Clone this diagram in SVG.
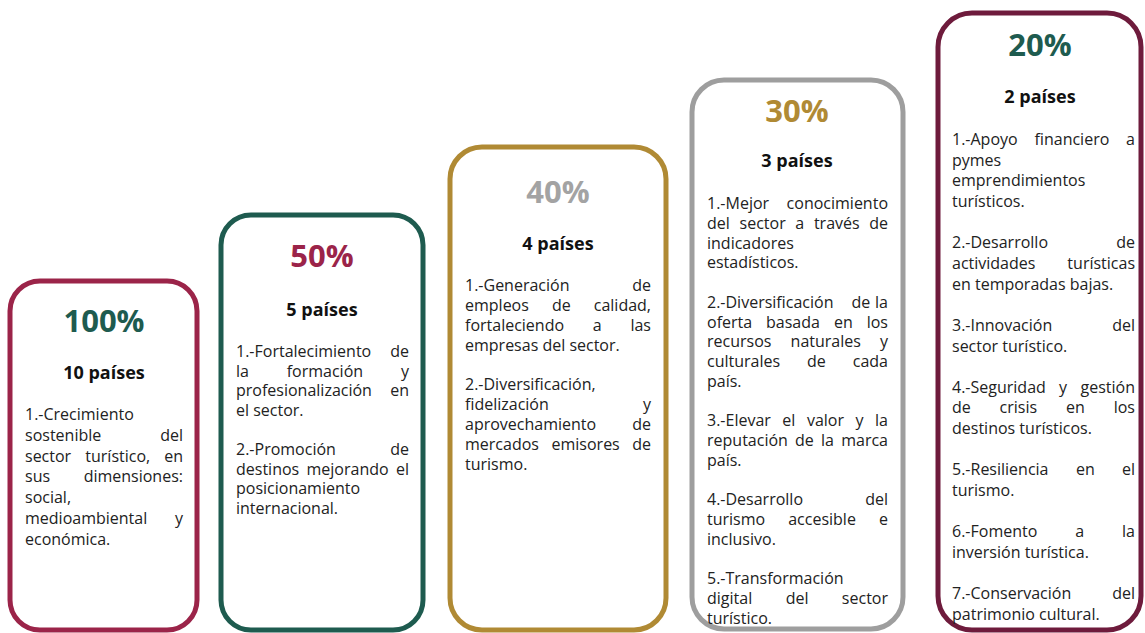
<svg xmlns="http://www.w3.org/2000/svg" width="1145" height="633" viewBox="0 0 1145 633">
<style>
.box{fill:#fff;stroke-width:5}
.pct{font-family:"Open Sans","Noto Sans",sans-serif;font-weight:700;font-size:31px;text-anchor:middle}
.cnt{font-family:"Open Sans","Noto Sans",sans-serif;font-weight:700;font-size:18px;text-anchor:middle;fill:#111}
.t{font-family:"Open Sans","Noto Sans",sans-serif;font-size:16px;fill:#222}
.r{text-anchor:end}
</style>
<rect width="1145" height="633" fill="#fff"/>
<g id="connectors"/>
<g id="node-100">
<rect class="box" x="10" y="281" width="187" height="349" rx="30" stroke="#9B2449"/>
<text class="pct" x="104" y="332" fill="#1E5B4F">100%</text>
<text class="cnt" x="104" y="379">10 países</text>
<text class="t" x="25" y="420">1.-Crecimiento</text>
<text class="t" x="25" y="440.8">sostenible</text><text class="t r" x="183" y="440.8">del</text>
<text class="t" x="25" y="461.6">sector</text><text class="t" x="85.3" y="461.6">turístico,</text><text class="t r" x="183" y="461.6">en</text>
<text class="t" x="25" y="482.4">sus</text><text class="t r" x="183" y="482.4">dimensiones:</text>
<text class="t" x="25" y="503.2">social,</text>
<text class="t" x="25" y="524">medioambiental</text><text class="t r" x="183" y="524">y</text>
<text class="t" x="25" y="544.8">económica.</text>
</g>
<g id="node-50">
<rect class="box" x="221" y="215" width="202" height="415" rx="30" stroke="#1E5B4F"/>
<text class="pct" x="322" y="267" fill="#9B2449">50%</text>
<text class="cnt" x="322" y="316">5 países</text>
<text class="t" x="236" y="357">1.-Fortalecimiento</text><text class="t r" x="409" y="357">de</text>
<text class="t" x="236" y="376.6">la</text><text class="t" x="286.7" y="376.6">formación</text><text class="t r" x="409" y="376.6">y</text>
<text class="t" x="236" y="396.2">profesionalización</text><text class="t r" x="409" y="396.2">en</text>
<text class="t" x="236" y="415.8">el sector.</text>
<text class="t" x="236" y="455">2.-Promoción</text><text class="t r" x="409" y="455">de</text>
<text class="t" x="236" y="474.6">destinos</text><text class="t" x="306.5" y="474.6">mejorando</text><text class="t r" x="409" y="474.6">el</text>
<text class="t" x="236" y="494.2">posicionamiento</text>
<text class="t" x="236" y="513.8">internacional.</text>
</g>
<g id="node-40">
<rect class="box" x="450" y="147" width="216" height="483" rx="32" stroke="#B08A34"/>
<text class="pct" x="558" y="203" fill="#A3A3A3">40%</text>
<text class="cnt" x="558" y="250">4 países</text>
<text class="t" x="465" y="291">1.-Generación</text><text class="t r" x="651" y="291">de</text>
<text class="t" x="465" y="310.85">empleos</text><text class="t" x="552" y="310.85">de</text><text class="t r" x="651" y="310.85">calidad,</text>
<text class="t" x="465" y="330.7">fortaleciendo</text><text class="t" x="592.8" y="330.7">a</text><text class="t r" x="651" y="330.7">las</text>
<text class="t" x="465" y="350.55">empresas del sector.</text>
<text class="t" x="465" y="390.25">2.-Diversificación,</text>
<text class="t" x="465" y="410.1">fidelización</text><text class="t r" x="651" y="410.1">y</text>
<text class="t" x="465" y="429.95">aprovechamiento</text><text class="t r" x="651" y="429.95">de</text>
<text class="t" x="465" y="449.8">mercados</text><text class="t" x="551.5" y="449.8">emisores</text><text class="t r" x="651" y="449.8">de</text>
<text class="t" x="465" y="469.65">turismo.</text>
</g>
<g id="node-30">
<rect class="box" x="692" y="80" width="211" height="549" rx="32" stroke="#9E9E9E"/>
<text class="pct" x="797" y="122" fill="#B08A34">30%</text>
<text class="cnt" x="797" y="167">3 países</text>
<text class="t" x="707" y="209">1.-Mejor</text><text class="t r" x="888" y="209">conocimiento</text>
<text class="t" x="707" y="228.76">del</text><text class="t" x="739.6" y="228.76">sector</text><text class="t" x="795.3" y="228.76">a</text><text class="t" x="813.9" y="228.76">través</text><text class="t r" x="888" y="228.76">de</text>
<text class="t" x="707" y="248.5">indicadores</text>
<text class="t" x="707" y="268.3">estadísticos.</text>
<text class="t" x="707" y="307.8">2.-Diversificación</text><text class="t" x="851.5" y="307.8">de</text><text class="t r" x="888" y="307.8">la</text>
<text class="t" x="707" y="327.6">oferta</text><text class="t" x="766" y="327.6">basada</text><text class="t" x="833.9" y="327.6">en</text><text class="t r" x="888" y="327.6">los</text>
<text class="t" x="707" y="347.3">recursos</text><text class="t" x="790.6" y="347.3">naturales</text><text class="t r" x="888" y="347.3">y</text>
<text class="t" x="707" y="367.1">culturales</text><text class="t" x="807" y="367.1">de</text><text class="t r" x="888" y="367.1">cada</text>
<text class="t" x="707" y="386.8">país.</text>
<text class="t" x="707" y="426.4">3.-Elevar</text><text class="t" x="782.3" y="426.4">el</text><text class="t" x="806.9" y="426.4">valor</text><text class="t" x="855.5" y="426.4">y</text><text class="t r" x="888" y="426.4">la</text>
<text class="t" x="707" y="446.1">reputación</text><text class="t" x="795" y="446.1">de</text><text class="t" x="821" y="446.1">la</text><text class="t r" x="888" y="446.1">marca</text>
<text class="t" x="707" y="465.9">país.</text>
<text class="t" x="707" y="505.4">4.-Desarrollo</text><text class="t r" x="888" y="505.4">del</text>
<text class="t" x="707" y="525.2">turismo</text><text class="t" x="788.2" y="525.2">accesible</text><text class="t r" x="888" y="525.2">e</text>
<text class="t" x="707" y="544.9">inclusivo.</text>
<text class="t" x="707" y="584.4">5.-Transformación</text>
<text class="t" x="707" y="604.2">digital</text><text class="t" x="785.8" y="604.2">del</text><text class="t r" x="888" y="604.2">sector</text>
<text class="t" x="707" y="624">turístico.</text>
</g>
<g id="node-20">
<rect class="box" x="938" y="13" width="203" height="617" rx="34" stroke="#6E1B3C"/>
<text class="pct" x="1040" y="56" fill="#1E5B4F">20%</text>
<text class="cnt" x="1040" y="103">2 países</text>
<text class="t" x="952" y="145">1.-Apoyo</text><text class="t" x="1034.5" y="145">financiero</text><text class="t r" x="1135" y="145">a</text>
<text class="t" x="952" y="165.65">pymes</text>
<text class="t" x="952" y="186.3">emprendimientos</text>
<text class="t" x="952" y="206.95">turísticos.</text>
<text class="t" x="952" y="248.25">2.-Desarrollo</text><text class="t r" x="1135" y="248.25">de</text>
<text class="t" x="952" y="268.9">actividades</text><text class="t r" x="1135" y="268.9">turísticas</text>
<text class="t" x="952" y="289.55">en temporadas bajas.</text>
<text class="t" x="952" y="330.85">3.-Innovación</text><text class="t r" x="1135" y="330.85">del</text>
<text class="t" x="952" y="351.5">sector turístico.</text>
<text class="t" x="952" y="392.8">4.-Seguridad</text><text class="t" x="1059.1" y="392.8">y</text><text class="t r" x="1135" y="392.8">gestión</text>
<text class="t" x="952" y="413.45">de</text><text class="t" x="999.6" y="413.45">crisis</text><text class="t" x="1066" y="413.45">en</text><text class="t r" x="1135" y="413.45">los</text>
<text class="t" x="952" y="434.1">destinos turísticos.</text>
<text class="t" x="952" y="475.4">5.-Resiliencia</text><text class="t" x="1075.9" y="475.4">en</text><text class="t r" x="1135" y="475.4">el</text>
<text class="t" x="952" y="496.05">turismo.</text>
<text class="t" x="952" y="537.35">6.-Fomento</text><text class="t" x="1075.2" y="537.35">a</text><text class="t r" x="1135" y="537.35">la</text>
<text class="t" x="952" y="558">inversión turística.</text>
<text class="t" x="952" y="599.3">7.-Conservación</text><text class="t r" x="1135" y="599.3">del</text>
<text class="t" x="952" y="619.95">patrimonio cultural.</text>
</g>
</svg>
